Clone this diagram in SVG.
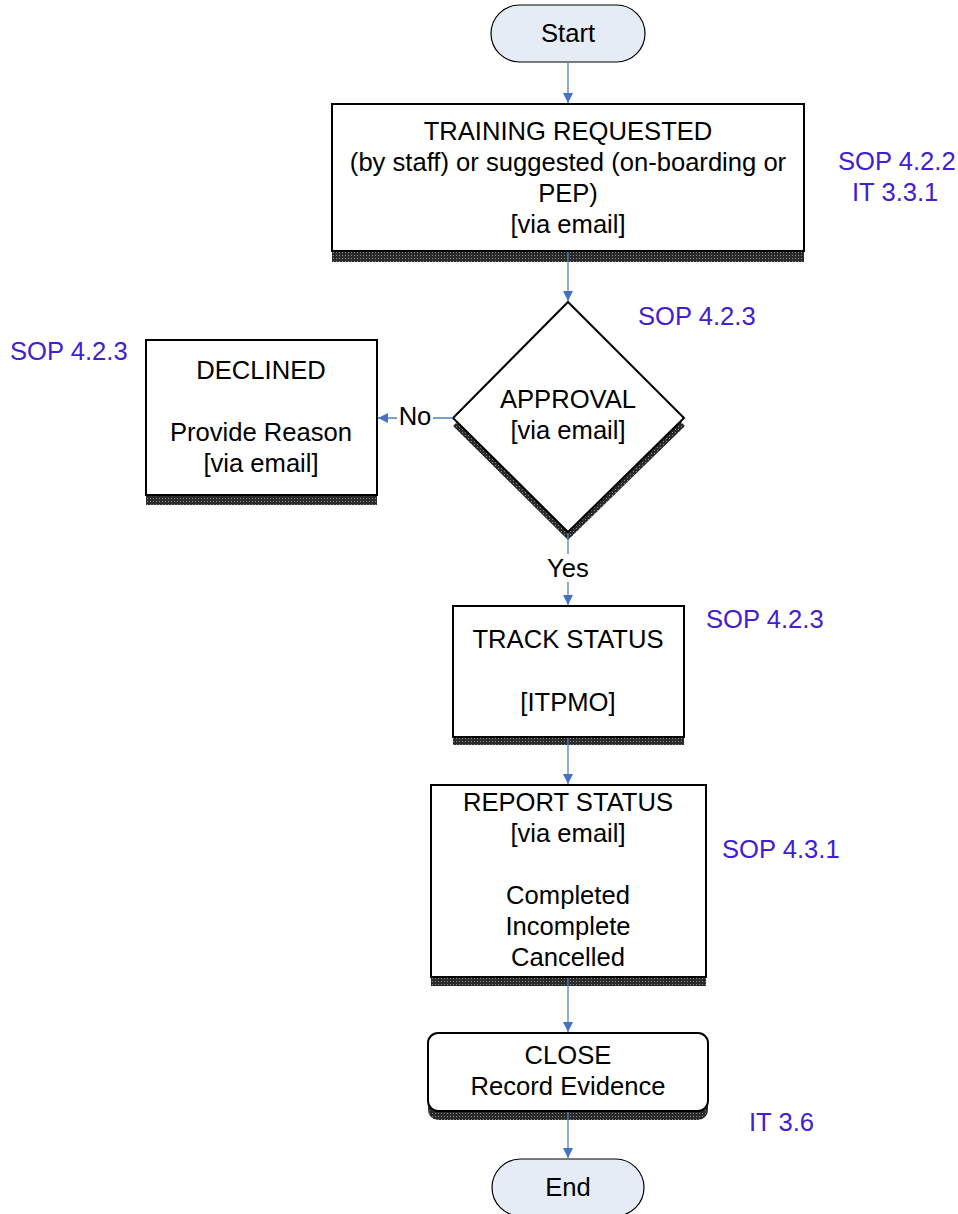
<svg xmlns="http://www.w3.org/2000/svg" width="958" height="1214" viewBox="0 0 958 1214">
<style>
text{font-family:"Liberation Sans",Arial,sans-serif;font-size:25.6px;fill:#000;text-anchor:middle}
.ref{fill:#4020D0;text-anchor:start}
.box{fill:#fff;stroke:#000;stroke-width:2}
.term{fill:#E6ECF6;stroke:#000;stroke-width:1.2}
.sh{fill:url(#hatch)}
.con{stroke:#4F81BD;stroke-width:1.3;fill:none}
</style>
<defs>
<pattern id="hatch" width="3" height="3" patternUnits="userSpaceOnUse">
<rect width="3" height="3" fill="#2a2a2a"/>
<rect width="1" height="1" fill="#8a8a8a"/>
</pattern>
<marker id="arr" markerWidth="12" markerHeight="12" refX="10" refY="5" orient="auto" markerUnits="userSpaceOnUse">
<path d="M0,0 L10,5 L0,10 Z" fill="#4472C4"/>
</marker>
</defs>

<g id="start">
<rect class="term" x="491" y="5" width="154" height="57" rx="28.5"/>
<text x="568" y="42">Start</text>
</g>

<g id="training">
<rect class="sh" x="332" y="250" width="472" height="12"/>
<rect class="box" x="332" y="104" width="472" height="147"/>
<text x="568" y="140">TRAINING REQUESTED</text>
<text x="568" y="171">(by staff) or suggested (on-boarding or</text>
<text x="568" y="202">PEP)</text>
<text x="568" y="233">[via email]</text>
</g>

<g id="approval">
<polygon class="sh" points="568,310 685,426 568,540 453,426"/>
<polygon class="box" points="568,302 684,418 568,532 453,418"/>
<text x="568" y="408">APPROVAL</text>
<text x="568" y="439">[via email]</text>
</g>

<g id="declined">
<rect class="sh" x="146" y="494" width="231" height="11"/>
<rect class="box" x="146" y="340" width="231" height="155"/>
<text x="261" y="379">DECLINED</text>
<text x="261" y="441">Provide Reason</text>
<text x="261" y="472">[via email]</text>
</g>

<g id="track">
<rect class="sh" x="453" y="736" width="231" height="9"/>
<rect class="box" x="453" y="606" width="231" height="131"/>
<text x="568" y="648">TRACK STATUS</text>
<text x="568" y="711">[ITPMO]</text>
</g>

<g id="report">
<rect class="sh" x="431" y="976" width="275" height="10"/>
<rect class="box" x="431" y="785" width="275" height="192"/>
<text x="568" y="811">REPORT STATUS</text>
<text x="568" y="842">[via email]</text>
<text x="568" y="904">Completed</text>
<text x="568" y="935">Incomplete</text>
<text x="568" y="966">Cancelled</text>
</g>

<g id="close">
<rect class="sh" x="428" y="1042" width="280" height="78" rx="10"/>
<rect class="box" x="428" y="1033" width="280" height="78" rx="10"/>
<text x="568" y="1064">CLOSE</text>
<text x="568" y="1095">Record Evidence</text>
</g>

<g id="end">
<rect class="term" x="492" y="1159" width="152" height="57" rx="28.5"/>
<text x="568" y="1196">End</text>
</g>

<g id="connectors">
<line class="con" x1="568" y1="62" x2="568" y2="103" marker-end="url(#arr)"/>
<line class="con" x1="568" y1="252" x2="568" y2="301" marker-end="url(#arr)"/>
<line class="con" x1="453" y1="418" x2="378" y2="418" marker-end="url(#arr)"/>
<line class="con" x1="568" y1="533" x2="568" y2="605" marker-end="url(#arr)"/>
<line class="con" x1="568" y1="738" x2="568" y2="784" marker-end="url(#arr)"/>
<line class="con" x1="568" y1="978" x2="568" y2="1032" marker-end="url(#arr)"/>
<line class="con" x1="568" y1="1112" x2="568" y2="1158" marker-end="url(#arr)"/>
<rect x="397" y="403" width="36" height="28" fill="#fff"/>
<text x="415" y="425">No</text>
<rect x="544" y="554" width="48" height="28" fill="#fff"/>
<text x="568" y="577">Yes</text>
</g>

<g id="refs">
<text class="ref" x="838" y="170">SOP 4.2.2</text>
<text class="ref" x="852" y="201">IT 3.3.1</text>
<text class="ref" x="638" y="325">SOP 4.2.3</text>
<text class="ref" x="10" y="360">SOP 4.2.3</text>
<text class="ref" x="706" y="628">SOP 4.2.3</text>
<text class="ref" x="722" y="858">SOP 4.3.1</text>
<text class="ref" x="749" y="1131">IT 3.6</text>
</g>
</svg>
